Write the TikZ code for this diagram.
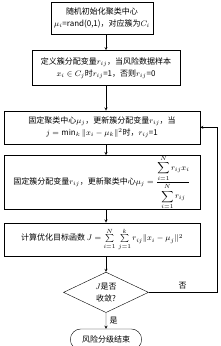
\documentclass[tikz,border=0pt]{standalone}
\usepackage{amsmath}
\usepackage{fontspec}
\setmainfont{Noto Sans CJK SC}
\usetikzlibrary{positioning, shapes.geometric, shapes.misc}

\begin{document}
\begin{tikzpicture}[->, >=stealth, x=1pt, y=1pt, thin,
    every node/.style={font=\fontsize{8}{12}\selectfont},
    box/.style={rectangle, draw, align=center, inner sep=2pt},
    decision/.style={diamond, draw, align=center, inner sep=0pt, minimum width=85pt, minimum height=38pt},
    terminal/.style={rounded rectangle, draw, minimum width=78pt, minimum height=21pt}]
        \useasboundingbox (0,0) rectangle (220,-346);
        % Nodes
        \node (init) [box, minimum width=102pt, minimum height=32pt] at (102,-18)
            {随机初始化聚类中心\\$\mu_i$=rand(0,1)，对应簇为$C_i$};
        \node (defr) [box, minimum width=148pt, minimum height=35pt, below=16pt of init, xshift=4pt]
            {定义簇分配变量$r_{ij}$，当风险数据样本\\$x_i\in C_j$时$r_{ij}$=1，否则$r_{ij}$=0};
        \node (assign) [box, minimum width=196pt, minimum height=33pt, below=25pt of defr, xshift=-4pt]
            {固定聚类中心$\mu_j$，更新簇分配变量$r_{ij}$，当\\$j=\min_k\|x_i-\mu_k\|^2$时，$r_{ij}$=1};
        \node (update) [box, minimum width=196pt, minimum height=49pt, inner sep=0pt, below=11pt of assign]
            {固定簇分配变量$r_{ij}$，更新聚类中心$\mu_j=\dfrac{\displaystyle\sum_{i=1}^{N} r_{ij}x_i}{\displaystyle\sum_{i=1}^{N} r_{ij}}$};
        \node (cost) [box, minimum width=196pt, minimum height=33pt, inner sep=0pt, below=13pt of update]
            {计算优化目标函数 $J=\sum\limits_{i=1}^{N}\,\sum\limits_{j=1}^{k} r_{ij}\|x_i-\mu_j\|^2$};
        \node (conv) [decision, below=16pt of cost, xshift=4pt] {$J$是否\\收敛?};
        \node (stop) [terminal, below=16pt of conv] {风险分级结束};

        % Edges
        \draw (init.south -| defr) -- (defr);
        \draw (defr) -- (defr |- assign.north);
        \draw (assign.south -| defr) -- (update.north -| defr);
        \draw (update.south -| defr) -- (cost.north -| defr);
        \draw (cost.south -| defr) -- (conv);
        \draw (conv) -- (stop) node[midway, right] {是};
        \draw (conv.east) -- ++(68,0) node[midway, above] {否} |- (assign.east);
    \end{tikzpicture}
\end{document}
